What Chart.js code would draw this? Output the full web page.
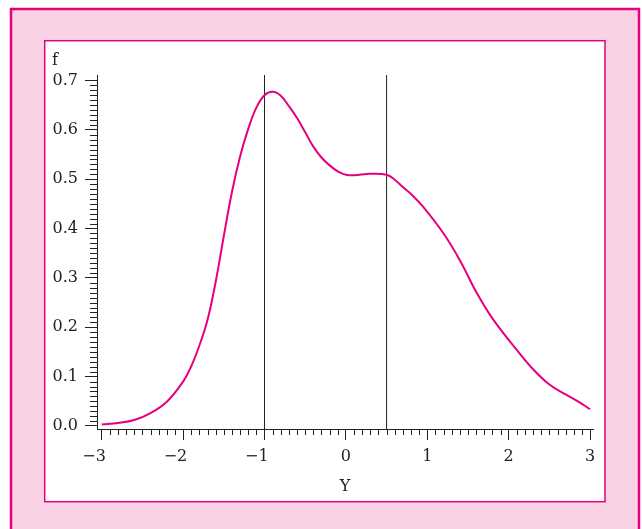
<!DOCTYPE html>
<html>
<head>
<meta charset="utf-8">
<script src="https://cdn.jsdelivr.net/npm/chart.js@4.4.1/dist/chart.umd.min.js"></script>
<style>
  html, body { margin: 0; padding: 0; background: #fff; }
  canvas { display: block; }
</style>
</head>
<body>
<canvas id="density" width="642" height="529"></canvas>
<script>
// estimated density f over Y
const yPoints = [-3.0, -2.8, -2.6, -2.4, -2.2, -2.0, -1.9, -1.8, -1.7, -1.6, -1.5, -1.4, -1.3, -1.2, -1.1,
  -1.0, -0.9, -0.8, -0.7, -0.6, -0.5, -0.4, -0.3, -0.2, -0.1, 0.0, 0.1, 0.3, 0.5, 0.6, 0.7, 0.8, 0.95,
  1.2, 1.4, 1.6, 1.8, 2.1, 2.3, 2.5, 2.7, 2.85, 3.0];
const fValues = [0.003, 0.006, 0.012, 0.026, 0.049, 0.090, 0.121, 0.163, 0.215, 0.292, 0.385, 0.474, 0.546, 0.602, 0.645,
  0.670, 0.677, 0.669, 0.648, 0.624, 0.595, 0.566, 0.544, 0.528, 0.516, 0.509, 0.508, 0.511, 0.509, 0.499, 0.484, 0.470, 0.444,
  0.390, 0.336, 0.272, 0.218, 0.154, 0.115, 0.084, 0.064, 0.050, 0.034];

// vertical reference lines
const markLines = [-1, 0.5];

const xTicks = [-3, -2, -1, 0, 1, 2, 3];
const fTicks = [0, 0.1, 0.2, 0.3, 0.4, 0.5, 0.6, 0.7];
const xMinorPerMajor = 10;
const fMinorPerMajor = 10;

const MAGENTA = '#e6007e';
const PINK = '#f9d3e3';
const INK = '#222';
const SERIF = "'DejaVu Serif', serif";

const X_MIN = -3.058, X_MAX = 3.036;
const F_MIN = -0.0061, F_MAX = 0.7111;

// pink page with framed white panel
const framePlugin = {
  id: 'frame',
  beforeDraw(chart) {
    const ctx = chart.ctx;
    ctx.save();
    ctx.fillStyle = '#fff';
    ctx.fillRect(0, 0, chart.width, chart.height);
    ctx.fillStyle = PINK;
    ctx.fillRect(11, 9, 628, 540);
    ctx.strokeStyle = MAGENTA;
    ctx.lineWidth = 2.5;
    ctx.strokeRect(11, 9, 628, 540);
    ctx.fillStyle = '#fff';
    ctx.fillRect(44.7, 40.7, 560.3, 461);
    ctx.lineWidth = 1.5;
    ctx.strokeRect(44.7, 40.7, 560.3, 461);
    ctx.restore();
  }
};

// short minor ticks between the labelled ones
const minorTicksPlugin = {
  id: 'minorTicks',
  beforeDatasetsDraw(chart) {
    const { ctx, scales: { x, y } } = chart;
    ctx.save();
    ctx.strokeStyle = INK;
    ctx.lineWidth = 1;
    ctx.beginPath();
    for (let k = 0; k < xTicks.length - 1; k++) {
      const step = (xTicks[k + 1] - xTicks[k]) / xMinorPerMajor;
      for (let i = 1; i < xMinorPerMajor; i++) {
        const px = Math.round(x.getPixelForValue(xTicks[k] + i * step)) + 0.5;
        ctx.moveTo(px, x.top);
        ctx.lineTo(px, x.top + 6);
      }
    }
    for (let k = 0; k < fTicks.length - 1; k++) {
      const step = (fTicks[k + 1] - fTicks[k]) / fMinorPerMajor;
      for (let i = 1; i < fMinorPerMajor; i++) {
        const py = Math.round(y.getPixelForValue(fTicks[k] + i * step)) + 0.5;
        ctx.moveTo(y.right - 7, py);
        ctx.lineTo(y.right, py);
      }
    }
    ctx.stroke();
    ctx.restore();
  }
};

const datasets = [{
  data: yPoints.map((v, i) => ({ x: v, y: fValues[i] })),
  borderColor: MAGENTA,
  borderWidth: 2,
  pointRadius: 0,
  tension: 0.4
}];
markLines.forEach(m => {
  datasets.push({
    data: [{ x: m, y: F_MIN }, { x: m, y: F_MAX }],
    borderColor: INK,
    borderWidth: 1,
    pointRadius: 0
  });
});

new Chart(document.getElementById('density'), {
  type: 'line',
  data: { datasets },
  plugins: [framePlugin, minorTicksPlugin],
  options: {
    responsive: false,
    animation: false,
    devicePixelRatio: 1,
    layout: { padding: { left: 52, right: 49, top: 51, bottom: 0 } },
    plugins: {
      legend: { display: false },
      tooltip: { enabled: false },
      title: {
        display: true,
        text: 'f',
        align: 'start',
        color: INK,
        font: { family: SERIF, size: 16, weight: 'normal' },
        padding: { top: 0, bottom: 4.8 }
      }
    },
    scales: {
      x: {
        type: 'linear',
        min: X_MIN,
        max: X_MAX,
        afterBuildTicks: s => { s.ticks = xTicks.map(v => ({ value: v })); },
        afterFit: s => { s.height = 100; },
        grid: { drawOnChartArea: false, drawTicks: true, tickLength: 11, color: INK, lineWidth: 1 },
        border: { display: true, color: INK, width: 1 },
        ticks: {
          color: INK,
          padding: 7,
          maxRotation: 0,
          font: { family: SERIF, size: 16 },
          callback: v => v < 0 ? '\u2212' + Math.abs(v) + '   ' : String(v)
        },
        title: {
          display: true,
          text: 'Y',
          color: INK,
          font: { family: SERIF, size: 16 },
          padding: { top: 0, bottom: 33 }
        }
      },
      y: {
        type: 'linear',
        min: F_MIN,
        max: F_MAX,
        afterBuildTicks: s => { s.ticks = fTicks.map(v => ({ value: v })); },
        afterFit: s => { s.width = 45; },
        grid: { drawOnChartArea: false, drawTicks: true, tickLength: 12, color: INK, lineWidth: 1 },
        border: { display: true, color: INK, width: 1 },
        ticks: {
          color: INK,
          padding: 7,
          font: { family: SERIF, size: 16 },
          callback: v => v.toFixed(1)
        }
      }
    }
  }
});
</script>
</body>
</html>
